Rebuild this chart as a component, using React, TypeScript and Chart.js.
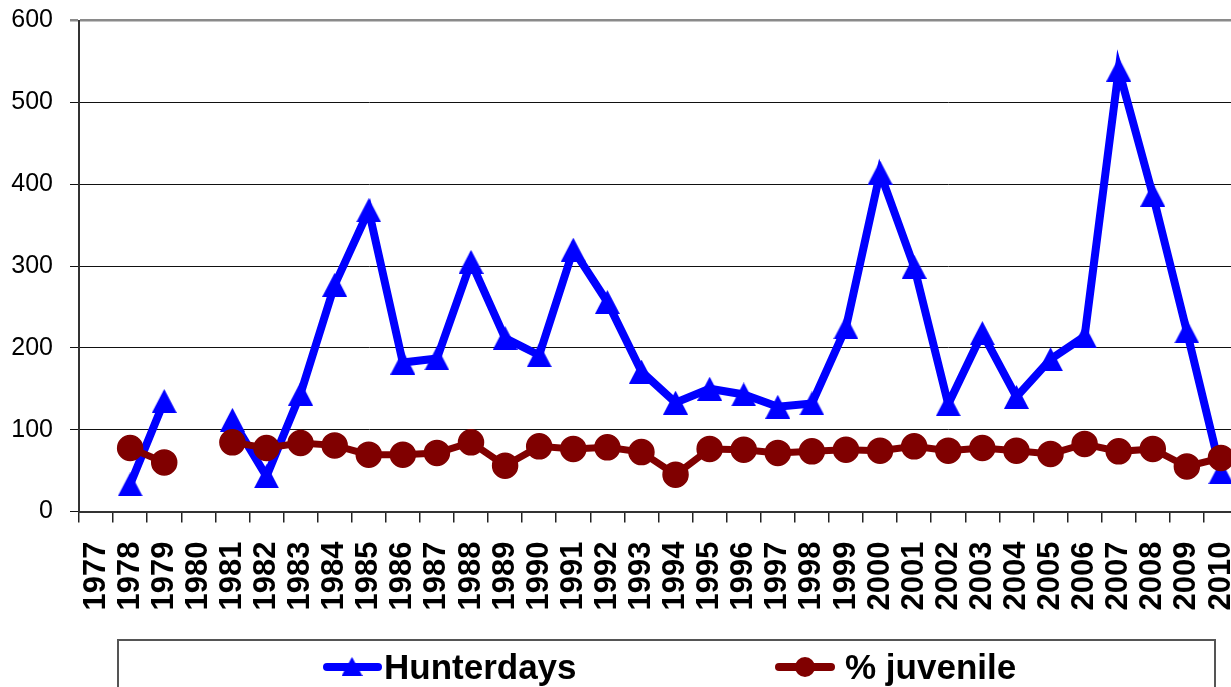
import React, { useEffect, useRef } from "react";
import { Chart, registerables } from "chart.js";

Chart.register(...registerables);

const years = [
  "1977", "1978", "1979", "1980", "1981", "1982", "1983", "1984", "1985", "1986",
  "1987", "1988", "1989", "1990", "1991", "1992", "1993", "1994", "1995", "1996",
  "1997", "1998", "1999", "2000", "2001", "2002", "2003", "2004", "2005", "2006",
  "2007", "2008", "2009", "2010",
];

const hunterdays = [
  null, 33, 135, null, 112, 43, 144, 277, 368, 182,
  187, 305, 212, 191, 320, 256, 171, 133, 150, 143,
  128, 132, 225, 414, 299, 131, 218, 140, 186, 214,
  540, 387, 220, 48,
];

const juvenile = [
  null, 77.6, 60, null, 84.5, 77.6, 83.7, 80.8, 69.4, 69.4,
  71.5, 84.5, 56, 79.6, 76.4, 78.4, 72.7, 45, 76.4, 75.5,
  71.5, 73.5, 75.5, 74.3, 79.6, 74.3, 77.6, 74.3, 70.3, 82.5,
  73.5, 76.4, 55, 65.4,
];

const seriesNames = ["Hunterdays", "% juvenile"];
const yMin = 0;
const yMax = 600;
const yStep = 100;

const BLUE = "#0000ff";
const MAROON = "#800000";
const FONT = "'Liberation Sans', Arial, Helvetica, sans-serif";

function makeTriangle(w: number, h: number, color: string) {
  const c = document.createElement("canvas");
  c.width = w;
  c.height = h;
  const g = c.getContext("2d")!;
  g.fillStyle = color;
  g.beginPath();
  g.moveTo(w / 2, 0);
  g.lineTo(w, h);
  g.lineTo(0, h);
  g.closePath();
  g.fill();
  return c;
}

export default function App() {
  const ref = useRef<HTMLCanvasElement | null>(null);

  useEffect(() => {
    const canvas = ref.current;
    if (!canvas) return;
    const triBig = makeTriangle(25, 24, BLUE);
    const triSmall = makeTriangle(21, 19, BLUE);

    const boxLegend = {
      id: "boxLegend",
      afterDraw(chart: any) {
        const ctx = chart.ctx as CanvasRenderingContext2D;
        const ds = chart.data.datasets;
        ctx.save();
        ctx.strokeStyle = "#555555";
        ctx.lineWidth = 2;
        ctx.strokeRect(118, 640, 1097, 90);
        const cy = 667;
        ctx.strokeStyle = BLUE;
        ctx.lineWidth = 8;
        ctx.lineCap = "round";
        ctx.beginPath();
        ctx.moveTo(327, cy);
        ctx.lineTo(378, cy);
        ctx.stroke();
        ctx.drawImage(triSmall, 352 - 10.5, cy - 10);
        ctx.font = "bold 35px " + FONT;
        ctx.fillStyle = "#000";
        ctx.textBaseline = "alphabetic";
        ctx.textAlign = "left";
        ctx.fillText(ds[0].label, 384, 679);
        ctx.strokeStyle = MAROON;
        ctx.beginPath();
        ctx.moveTo(779, cy);
        ctx.lineTo(831, cy);
        ctx.stroke();
        ctx.fillStyle = MAROON;
        ctx.beginPath();
        ctx.arc(805, cy, 10, 0, Math.PI * 2);
        ctx.fill();
        ctx.fillStyle = "#000";
        ctx.fillText(ds[1].label, 845, 679);
        ctx.restore();
      },
    };

    const chart = new Chart(canvas, {
      type: "line",
      data: {
        labels: years,
        datasets: [
          {
            label: seriesNames[0],
            data: hunterdays,
            borderColor: BLUE,
            backgroundColor: BLUE,
            borderWidth: 8,
            pointStyle: triBig as any,
            pointRadius: 12,
            spanGaps: false,
            order: 2,
          },
          {
            label: seriesNames[1],
            data: juvenile,
            borderColor: MAROON,
            backgroundColor: MAROON,
            borderWidth: 7,
            pointStyle: "circle",
            pointRadius: 12.5,
            pointBorderWidth: 1.5,
            spanGaps: false,
            order: 1,
          },
        ],
      },
      options: {
        responsive: false,
        animation: false,
        devicePixelRatio: 1,
        events: [],
        layout: { padding: { left: 0, right: 6, top: 20.5, bottom: 90 } },
        plugins: {
          legend: { display: false },
          tooltip: { enabled: false },
          title: { display: false },
        },
        scales: {
          x: {
            type: "category",
            offset: true,
            afterFit: (s: any) => {
              s.height = 118.5;
              s.paddingLeft = 0;
              s.paddingRight = 0;
            },
            grid: {
              offset: true,
              drawOnChartArea: false,
              drawTicks: true,
              tickLength: 11,
              color: "#222",
              lineWidth: 1.5,
            },
            border: { display: true, color: "#333", width: 2 },
            ticks: {
              autoSkip: false,
              minRotation: 90,
              maxRotation: 90,
              padding: 19,
              color: "#000",
              font: { family: FONT, size: 31, weight: "bold" },
            },
          },
          y: {
            min: yMin,
            max: yMax,
            afterFit: (s: any) => {
              s.width = 79;
              s.paddingTop = 0;
              s.paddingBottom = 0;
            },
            grid: {
              color: (c: any) => (c.tick && c.tick.value === yMax ? "#8a8a8a" : "#111"),
              lineWidth: (c: any) => (c.tick && c.tick.value === yMax ? 2.5 : 1),
              drawTicks: true,
              tickLength: 9,
            },
            border: { display: true, color: "#333", width: 2 },
            ticks: {
              stepSize: yStep,
              padding: 17,
              color: "#000",
              font: { family: FONT, size: 25 },
            },
          },
        },
      },
      plugins: [boxLegend],
    });
    return () => chart.destroy();
  }, []);

  return (
    <div
      style={{
        position: "fixed",
        left: 0,
        top: 0,
        width: 1231,
        height: 687,
        overflow: "hidden",
        background: "#fff",
      }}
    >
      <canvas ref={ref} width={1258} height={720} style={{ width: 1258, height: 720, display: "block" }} />
    </div>
  );
}
